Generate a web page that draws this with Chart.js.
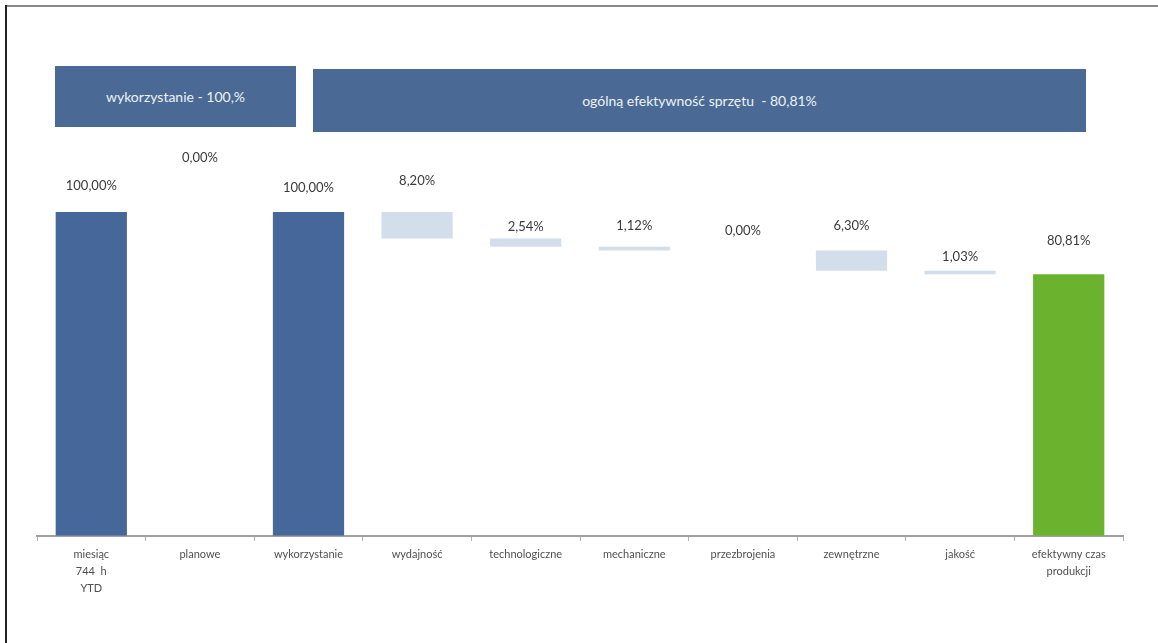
<!DOCTYPE html>
<html>
<head>
<meta charset="utf-8">
<script src="https://cdn.jsdelivr.net/npm/chart.js@4"></script>
<style>
  html, body { margin: 0; background: #fff; overflow: hidden; font-family: Lato, "Open Sans", sans-serif; }
  #topline { position: absolute; left: 5px; top: 5px; width: 1153px; height: 2px; background: #8a8a8a; }
  #leftline { position: absolute; left: 5px; top: 5px; width: 2px; height: 638px; background: #222; }
  .head { position: absolute; background: #4a6a95; color: #eef2f7; font-size: 14px;
          display: flex; align-items: center; justify-content: center; }
  #wrap { position: absolute; left: 0; top: 0; width: 1158px; height: 643px; }
</style>
</head>
<body>
<div id="topline"></div>
<div id="leftline"></div>
<div id="wrap"><canvas id="oee"></canvas></div>
<div class="head" style="left:55px;top:66px;width:241px;height:61px;">wykorzystanie - 100,%</div>
<div class="head" style="left:313px;top:69px;width:773px;height:63px;">ogólną efektywność sprzętu&nbsp; - 80,81%</div>
<script>
const categories = [
  ['miesiąc', '744  h', 'YTD'],
  'planowe',
  'wykorzystanie',
  'wydajność',
  'technologiczne',
  'mechaniczne',
  'przezbrojenia',
  'zewnętrzne',
  'jakość',
  ['efektywny czas', 'produkcji']
];
// percent of the month; 'total' bars start at zero, 'loss' bars hang from the running level
const values = [100.00, 0.00, 100.00, 8.20, 2.54, 1.12, 0.00, 6.30, 1.03, 80.81];
const kinds = ['total', 'loss', 'total', 'loss', 'loss', 'loss', 'loss', 'loss', 'loss', 'final'];
const valueLabels = ['100,00%', '0,00%', '100,00%', '8,20%', '2,54%', '1,12%', '0,00%', '6,30%', '1,03%', '80,81%'];

// build floating [low, high] ranges
let level = 0;
const ranges = values.map((v, i) => {
  if (kinds[i] === 'loss') {
    const r = [level - v, level];
    level -= v;
    return r;
  }
  level = v;
  return [0, v];
});

const colours = kinds.map(k => k === 'total' ? '#46679a' : k === 'final' ? '#6bb32f' : '#d3deec');
// how far above each bar its label sits (px)
const labelLift = [26, 54, 24, 31, 12, 21, 20, 25, 14, 33];

const valueLabelPlugin = {
  id: 'valueLabels',
  afterDatasetsDraw(chart) {
    const ctx = chart.ctx;
    const meta = chart.getDatasetMeta(0);
    ctx.save();
    ctx.fillStyle = '#3a3a3a';
    ctx.font = '13px Lato, "Open Sans", sans-serif';
    ctx.textAlign = 'center';
    ctx.textBaseline = 'middle';
    meta.data.forEach((bar, i) => {
      const top = Math.min(bar.y, bar.base);
      ctx.fillText(valueLabels[i], bar.x, top - labelLift[i]);
    });
    ctx.restore();
  }
};

new Chart(document.getElementById('oee'), {
  type: 'bar',
  data: {
    labels: categories,
    datasets: [{
      data: ranges,
      backgroundColor: colours,
      barPercentage: 0.82,
      categoryPercentage: 0.8
    }]
  },
  plugins: [valueLabelPlugin],
  options: {
    responsive: true,
    maintainAspectRatio: false,
    animation: false,
    layout: { padding: { top: 212, left: 37, right: 35, bottom: 41 } },
    plugins: { legend: { display: false }, tooltip: { enabled: false } },
    scales: {
      y: { display: false, min: 0, max: 100 },
      x: {
        grid: { drawOnChartArea: false, drawTicks: true, tickLength: 5, color: '#b0b0b0', offset: true },
        border: { color: '#a0a0a0', width: 2 },
        ticks: {
          color: '#505050',
          font: { size: 11, family: 'Lato, "Open Sans", sans-serif', lineHeight: 1.55 },
          maxRotation: 0,
          autoSkip: false,
          padding: 5
        }
      }
    }
  }
});
</script>
</body>
</html>
